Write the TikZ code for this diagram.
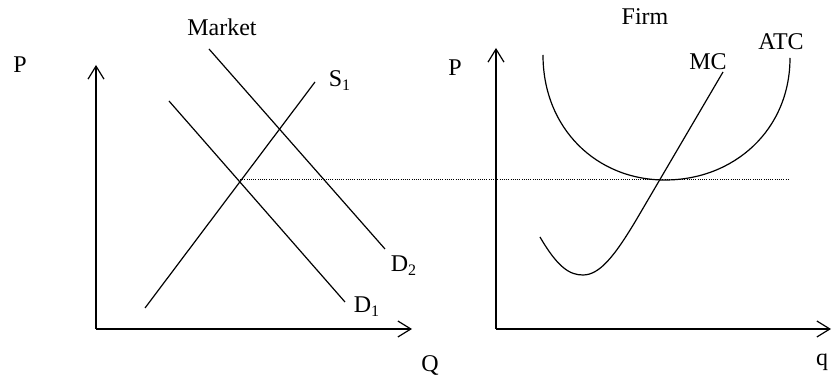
\documentclass[tikz,border=0pt]{standalone}
\usepackage{fontspec}
\setmainfont{Liberation Serif}
\usetikzlibrary{arrows.meta}
\tikzset{
  curve/.style={line width=0.6pt},
  axis/.style={line width=0.6pt,-{Straight Barb[length=6.5pt,width=8pt]}},
  lbl/.style={anchor=base,inner sep=0pt,font=\fontsize{12}{14}\selectfont},
  priceline/.style={line width=0.5pt,dash pattern=on 0.5pt off 0.6pt},
}
\begin{document}
\begin{tikzpicture}[x=0.5pt,y=-0.5pt]
  \useasboundingbox (0,0) rectangle (832,379);
  % market
  \begin{scope}
    \coordinate (O1) at (96,329);
    \coordinate (ytip1) at (96,65);
    \coordinate (xtip1) at (412,329);
    \draw[axis] (O1) -- (ytip1);
    \draw[axis] (O1) -- (xtip1);
    \node[lbl] (p1) at (20,73) {P};
    \node[lbl] (q1) at (430,372) {Q};
    \node[lbl] (mkt) at (222,36) {Market};
    \draw[curve] (145,308) -- (315,82);
    \node[lbl] (s1) at (340,87) {S\textsubscript{1}};
    \draw[curve] (169,101) -- (345,302);
    \node[lbl] (d1) at (367,313) {D\textsubscript{1}};
    \draw[curve] (209,49) -- (385,249);
    \node[lbl] (d2) at (404,272) {D\textsubscript{2}};
    \coordinate (E) at (240,180);
  \end{scope}
  % firm
  \begin{scope}
    \coordinate (O2) at (496,329);
    \coordinate (ytip2) at (496,48);
    \coordinate (xtip2) at (831,329);
    \draw[axis] (O2) -- (ytip2);
    \draw[axis] (O2) -- (xtip2);
    \node[lbl] (p2) at (455,76) {P};
    \node[lbl] (q2) at (822,366) {q};
    \node[lbl] (firm) at (645,25) {Firm};
    \draw[curve] (543,55) .. controls (543,128) and (596,180) .. (665,180)
      .. controls (734,180) and (790,130) .. (790,58);
    \node[lbl] (atc) at (781,50) {ATC};
    \draw[curve] (540,237) .. controls (558,268) and (570,275) .. (583,275)
      .. controls (600,275) and (615,255) .. (635,222) -- (723,72);
    \node[lbl] (mc) at (708,70) {MC};
    \coordinate (pend) at (789,180);
  \end{scope}
  \draw[priceline] (E) -- (pend);
\end{tikzpicture}
\end{document}
